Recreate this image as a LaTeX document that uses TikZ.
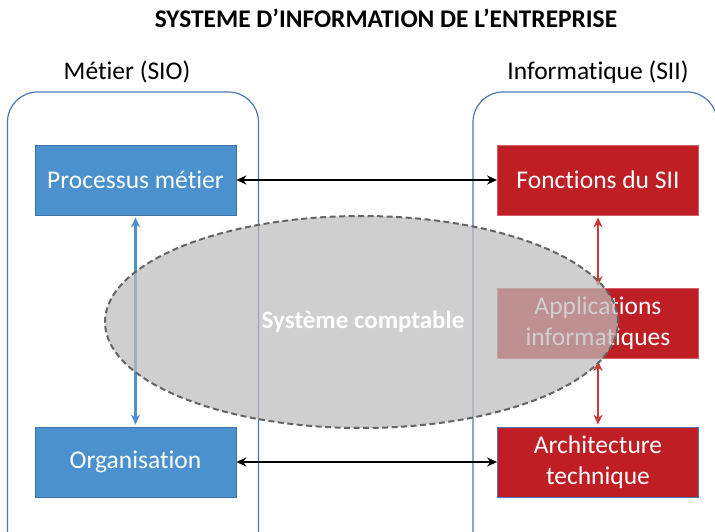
\documentclass[tikz,border=0pt]{standalone}
\usepackage{fontspec}
\setmainfont{Carlito}[Ligatures=NoCommon]
\usetikzlibrary{arrows.meta,shapes.geometric}
\definecolor{boxblue}{RGB}{74,145,205}
\definecolor{boxblueline}{RGB}{60,115,170}
\definecolor{boxred}{RGB}{190,30,36}
\definecolor{frameline}{RGB}{75,120,180}
\definecolor{ovalgray}{RGB}{190,188,188}
\definecolor{ovalline}{RGB}{100,100,100}
\definecolor{linkred}{RGB}{205,55,55}
\tikzset{
  container/.style={draw=frameline, line width=1.2pt, rounded corners=30pt},
  boxtext/.style={font=\fontsize{25.5}{31}\selectfont, align=center, text=white,
    minimum width=201pt, minimum height=70pt, line width=0.8pt},
  bluebox/.style={boxtext, draw=boxblueline, fill=boxblue},
  redbox/.style={boxtext, draw=boxred!70!white, fill=boxred},
  heading/.style={font=\fontsize{25.5}{30}\selectfont, anchor=base},
  tips/.style={{Stealth[length=10pt,width=9pt]}-{Stealth[length=10pt,width=9pt]}},
  link/.style={line width=2pt, tips},
}
\begin{document}
\begin{tikzpicture}[x=1pt,y=-1pt]
\useasboundingbox (0,0) rectangle (715,532);
\clip (0,0) rectangle (715,532);

% title and column headings
\node[font=\fontsize{25.4}{30}\selectfont\bfseries, anchor=base] (title) at (386,28) {SYSTEME D’INFORMATION DE L’ENTREPRISE};
\node[heading] (lefthead) at (127,80) {Métier (SIO)};
\node[heading] (righthead) at (598,80) {Informatique (SII)};

% the two domain frames
\draw[container] (7.5,92) rectangle (258.5,570);
\draw[container] (473,92) rectangle (717,570);

% boxes
\node[bluebox] (proc) at (135.5,180) {Processus métier};
\node[bluebox] (orga) at (135.5,462) {Organisation};
\node[redbox] (fonc) at (598,180) {Fonctions du SII};
\node[redbox] (appl) at (598,323.5) {Applications\\informatiques};
\node[redbox, draw=frameline] (arch) at (598,462) {Architecture\\technique};

% links
\draw[link, black] (proc.east) -- (fonc.west);
\draw[link, black] (orga.east) -- (arch.west);
\draw[link, draw=boxblue, line width=3pt] ([yshift=-2pt]proc.south) -- ([yshift=2pt]orga.north);
\draw[link, draw=linkred] ([yshift=-2pt]fonc.south) -- ([yshift=2pt]appl.north);
\draw[link, draw=linkred] ([yshift=-2pt]appl.south) -- ([yshift=2pt]arch.north);

% accounting system oval laid over everything
\node[ellipse, draw=ovalline, dash pattern=on 6pt off 3.5pt, line width=2pt, fill=ovalgray, fill opacity=0.72,
  draw opacity=1, minimum width=513pt, minimum height=212pt, inner sep=0pt] (compta) at (361.5,322) {};
\node[text=white, font=\fontsize{25}{30}\selectfont\bfseries] (comptalabel) at (363,322) {Système comptable};
\end{tikzpicture}
\end{document}
